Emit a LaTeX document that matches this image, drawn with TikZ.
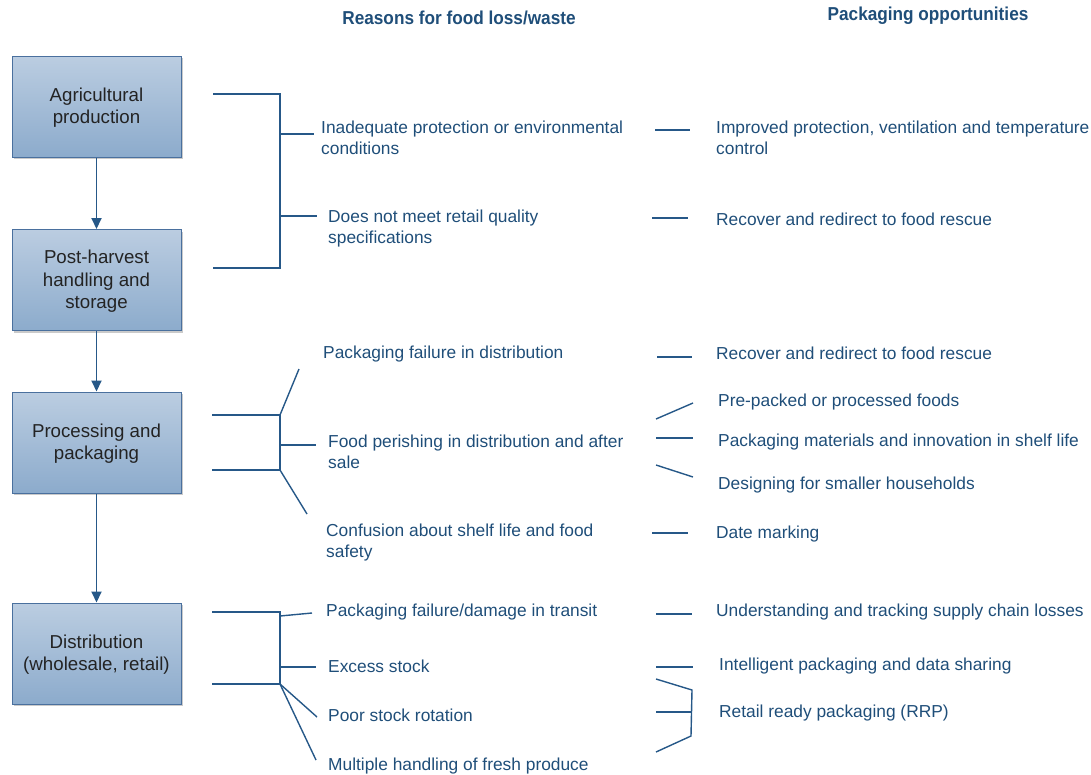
\documentclass[tikz,border=0pt]{standalone}
\usepackage{fontspec}
\setmainfont{Liberation Sans}
\newfontfamily\headfont{Liberation Sans}[FakeStretch=0.92]
\usetikzlibrary{arrows.meta,shadows}
\definecolor{txtblue}{RGB}{31,78,121}
\definecolor{linblue}{RGB}{38,88,136}
\definecolor{boxtop}{RGB}{187,205,225}
\definecolor{boxbot}{RGB}{140,171,204}
\definecolor{boxedge}{RGB}{74,112,158}
\definecolor{boxtxt}{RGB}{35,35,35}
\tikzset{
  stage/.style={draw=boxedge, line width=1pt, top color=boxtop, bottom color=boxbot,
    minimum width=169pt, minimum height=101pt, inner sep=0pt, align=center,
    text=boxtxt, font=\fontsize{18.7}{22.7}\selectfont,
    drop shadow={shadow xshift=2pt, shadow yshift=-2pt, fill=black!35, opacity=0.6}},
  flow/.style={draw=linblue, line width=1.9pt, -{Triangle[length=11pt,width=10pt]}},
  conn/.style={draw=linblue, line width=1.4pt},
  lbl/.style={anchor=west, inner sep=0pt, align=left, text=txtblue,
    font=\fontsize{17.35}{20.7}\selectfont},
  head/.style={inner sep=0pt, text=txtblue, font=\headfont\bfseries\fontsize{18.7}{21}\selectfont}
}
\begin{document}
\begin{tikzpicture}[x=1pt,y=-1pt]
\useasboundingbox (0,0) rectangle (1091,774);
% headers
\node[head] (h1) at (459,18) {Reasons for food loss/waste};
\node[head] (h2) at (928,16) {Packaging opportunities};
% stages
\node[stage] (s1) at (96.5,106.5) {\strut Agricultural\\production};
\node[stage] (s2) at (96.5,280) {\strut Post-harvest\\handling and\\storage};
\node[stage] (s3) at (96.5,442.5) {\strut Processing and\\packaging};
\node[stage] (s4) at (96.5,653.5) {\strut Distribution\\(wholesale, retail)};
\draw[flow] (s1) -- (s2);
\draw[flow] (s2) -- (s3);
\draw[flow] (s3) -- (s4);

% ---- bracket 1
\coordinate (a1) at (213,94); \coordinate (a2) at (280,94);
\coordinate (a3) at (280,268); \coordinate (a4) at (213,268);
\coordinate (a5) at (280,134); \coordinate (a6) at (314,134);
\coordinate (a7) at (280,216); \coordinate (a8) at (317,216);
\draw[conn] (a1) -- (a2) -- (a3) -- (a4);
\draw[conn] (a5) -- (a6);
\draw[conn] (a7) -- (a8);
\node[lbl] (r1) at (321,138) {Inadequate protection or environmental\\conditions};
\node[lbl] (r2) at (328,228.5) {Does not meet retail quality\\specifications};

% ---- bracket 2
\coordinate (b1) at (212,415); \coordinate (b2) at (280,415);
\coordinate (b3) at (280,470); \coordinate (b4) at (212,470);
\coordinate (b5) at (299,369);
\coordinate (b6) at (280,445); \coordinate (b7) at (316,445);
\coordinate (b8) at (307,514);
\draw[conn] (b1) -- (b2) -- (b3) -- (b4);
\draw[conn] (b2) -- (b5);
\draw[conn] (b6) -- (b7);
\draw[conn] (b3) -- (b8);
\node[lbl] (r3) at (323,354) {Packaging failure in distribution};
\node[lbl] (r4) at (328,452) {Food perishing in distribution and after\\sale};
\node[lbl] (r5) at (326,542.5) {Confusion about shelf life and food\\safety};

% ---- bracket 3
\coordinate (c1) at (212,612); \coordinate (c2) at (280,612);
\coordinate (c3) at (280,684); \coordinate (c4) at (212,684);
\coordinate (c5) at (280,616); \coordinate (c6) at (312,613);
\coordinate (c7) at (280,667); \coordinate (c8) at (316,667);
\coordinate (c9) at (317,717); \coordinate (c10) at (316,760);
\draw[conn] (c1) -- (c2) -- (c3) -- (c4);
\draw[conn] (c5) -- (c6);
\draw[conn] (c7) -- (c8);
\draw[conn] (c3) -- (c9);
\draw[conn] (c3) -- (c10);
\node[lbl] (r6) at (326,612) {Packaging failure/damage in transit};
\node[lbl] (r7) at (328,666.5) {Excess stock};
\node[lbl] (r8) at (328,715.5) {Poor stock rotation};
\node[lbl] (r9) at (328,765.5) {Multiple handling of fresh produce};

% ---- opportunities
\coordinate (d1) at (655,130); \coordinate (d2) at (690,130);
\draw[conn] (d1) -- (d2);
\node[lbl] (p1) at (716,138) {Improved protection, ventilation and temperature\\control};
\coordinate (d3) at (652,218); \coordinate (d4) at (688,218);
\draw[conn] (d3) -- (d4);
\node[lbl] (p2) at (716,219.5) {Recover and redirect to food rescue};
\coordinate (d5) at (657,357); \coordinate (d6) at (692,357);
\draw[conn] (d5) -- (d6);
\node[lbl] (p3) at (716,353) {Recover and redirect to food rescue};

\coordinate (e1) at (656,419); \coordinate (e2) at (693,403);
\coordinate (e3) at (656,438); \coordinate (e4) at (693,438);
\coordinate (e5) at (656,465); \coordinate (e6) at (693,477);
\draw[conn] (e1) -- (e2);
\draw[conn] (e3) -- (e4);
\draw[conn] (e5) -- (e6);
\node[lbl] (p4) at (718,402) {Pre-packed or processed foods};
\node[lbl] (p5) at (718,442.5) {Packaging materials and innovation in shelf life};
\node[lbl] (p6) at (718,485) {Designing for smaller households};

\coordinate (f1) at (652,533); \coordinate (f2) at (688,533);
\draw[conn] (f1) -- (f2);
\node[lbl] (p7) at (716,534) {Date marking};

\coordinate (g1) at (656,614); \coordinate (g2) at (692,614);
\draw[conn] (g1) -- (g2);
\node[lbl] (p8) at (716,612) {Understanding and tracking supply chain losses};

\coordinate (k1) at (656,667); \coordinate (k2) at (693,667);
\draw[conn] (k1) -- (k2);
\node[lbl] (p9) at (719,666.5) {Intelligent packaging and data sharing};

\coordinate (m1) at (656,679); \coordinate (m2) at (692,690);
\coordinate (m3) at (691,736); \coordinate (m4) at (656,752);
\coordinate (m5) at (656,712); \coordinate (m6) at (692,712);
\draw[conn] (m1) -- (m2) -- (m3) -- (m4);
\draw[conn] (m5) -- (m6);
\node[lbl] (p10) at (719,713) {Retail ready packaging (RRP)};
\end{tikzpicture}
\end{document}
